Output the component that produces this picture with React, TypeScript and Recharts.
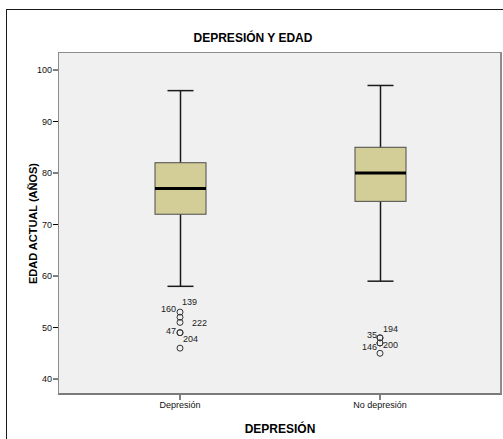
import React from 'react';
import {
  ComposedChart,
  Bar,
  Scatter,
  XAxis,
  YAxis,
  CartesianGrid,
  LabelList,
  Label,
} from 'recharts';

// Box plot summary per group
const categories = ['Depresión', 'No depresión'];
const whiskerLow = [58, 59];
const quartile1 = [72, 74.5];
const medians = [77, 80];
const quartile3 = [82, 85];
const whiskerHigh = [96, 97];

// Outliers and their case numbers ('' = no label shown)
const outlierValues = [
  [53, 52, 51, 49, 49, 46],
  [48, 48, 47, 47, 45],
];
const outlierIds = [
  ['139', '160', '222', '47', '204', ''],
  ['194', '35', '146', '200', ''],
];

const yTicks = [40, 50, 60, 70, 80, 90, 100];

const FONT = '"Liberation Sans", Arial, sans-serif';

const boxData = categories.map((cat, i) => ({
  cat,
  low: whiskerLow[i],
  q1: quartile1[i],
  med: medians[i],
  q3: quartile3[i],
  high: whiskerHigh[i],
}));

const outlierData = categories.flatMap((cat, i) =>
  outlierValues[i].map((value, j) => ({ cat, value, id: outlierIds[i][j] }))
);

// where each case number sits relative to its circle
const labelPlacement: Record<string, { dx: number; dy: number; anchor: 'start' | 'end' }> = {
  '139': { dx: 2, dy: -10, anchor: 'start' },
  '160': { dx: -4, dy: -8, anchor: 'end' },
  '222': { dx: 12, dy: 1, anchor: 'start' },
  '47': { dx: -4, dy: -2, anchor: 'end' },
  '204': { dx: 3, dy: 6, anchor: 'start' },
  '194': { dx: 3, dy: -9, anchor: 'start' },
  '35': { dx: -3, dy: -3, anchor: 'end' },
  '146': { dx: -3, dy: 4, anchor: 'end' },
  '200': { dx: 3, dy: 2, anchor: 'start' },
};

const BoxShape = (props: any) => {
  const { x, y, width, height, payload } = props;
  const top = height >= 0 ? y : y + height;
  const h = Math.abs(height);
  const span = payload.high - payload.low;
  const toY = (v: number) => top + ((payload.high - v) / span) * h;
  const cx = x + width / 2;
  const cap = 13;
  return (
    <g>
      <line x1={cx} x2={cx} y1={toY(payload.high)} y2={toY(payload.q3)} stroke="#1a1a1a" strokeWidth={1.5} />
      <line x1={cx} x2={cx} y1={toY(payload.q1)} y2={toY(payload.low)} stroke="#1a1a1a" strokeWidth={1.5} />
      <line x1={cx - cap} x2={cx + cap} y1={toY(payload.high)} y2={toY(payload.high)} stroke="#1a1a1a" strokeWidth={1.5} />
      <line x1={cx - cap} x2={cx + cap} y1={toY(payload.low)} y2={toY(payload.low)} stroke="#1a1a1a" strokeWidth={1.5} />
      <rect
        x={x}
        y={toY(payload.q3)}
        width={width}
        height={toY(payload.q1) - toY(payload.q3)}
        fill="#D3CE98"
        stroke="#4a4a4a"
        strokeWidth={1}
      />
      <line x1={x} x2={x + width} y1={toY(payload.med)} y2={toY(payload.med)} stroke="#000" strokeWidth={3} />
    </g>
  );
};

const OutlierShape = (props: any) => (
  <circle cx={props.cx} cy={props.cy} r={3} fill="none" stroke="#333" strokeWidth={1} />
);

const OutlierLabel = (props: any) => {
  const { x, y, width, height, value } = props;
  const place = labelPlacement[value];
  if (!value || !place) return null;
  return (
    <text
      x={x + width / 2 + place.dx}
      y={y + height / 2 + place.dy}
      textAnchor={place.anchor}
      dominantBaseline="central"
      fontSize={9}
      fontFamily={FONT}
      fill="#222"
    >
      {value}
    </text>
  );
};

export default function App() {
  return (
    <div
      style={{
        position: 'absolute',
        left: 0,
        top: 0,
        width: 503,
        height: 439,
        background: '#fff',
        overflow: 'hidden',
        fontFamily: FONT,
      }}
    >
      <div
        style={{
          position: 'absolute',
          left: 6,
          top: 9,
          width: 530,
          height: 470,
          border: '1.5px solid #1a1a1a',
        }}
      />
      <div
        style={{
          position: 'absolute',
          left: 0,
          top: 31,
          width: 506,
          textAlign: 'center',
          fontSize: 12,
          fontWeight: 'bold',
          lineHeight: '14px',
          color: '#000',
        }}
      >
        DEPRESIÓN Y EDAD
      </div>
      <ComposedChart
        width={503}
        height={439}
        data={boxData}
        margin={{ top: 52, right: 1, left: 8, bottom: 6 }}
        style={{ position: 'absolute', left: 0, top: 0 }}
      >
        <CartesianGrid horizontal={false} vertical={false} fill="#F0F0F0" />
        <XAxis
          dataKey="cat"
          type="category"
          allowDuplicatedCategory={false}
          padding={{ left: 22, right: 22 }}
          axisLine={false}
          tickSize={5}
          tickMargin={2}
          tickLine={{ stroke: '#000' }}
          tick={{ fontSize: 9, fill: '#111', fontFamily: FONT }}
          height={38}
        >
          <Label
            value="DEPRESIÓN"
            position="insideBottom"
            offset={0}
            style={{ fontSize: 12, fontWeight: 'bold', fill: '#000', fontFamily: FONT }}
          />
        </XAxis>
        <YAxis
          type="number"
          domain={[36.9, 103.5]}
          ticks={yTicks}
          allowDataOverflow
          axisLine={false}
          tickSize={5}
          tickMargin={1}
          tickLine={{ stroke: '#000' }}
          tick={{ fontSize: 9, fill: '#111', fontFamily: FONT }}
          width={50}
        >
          <Label
            content={({ viewBox }: any) => {
              const cx = viewBox.x + 25;
              const cy = viewBox.y + viewBox.height / 2;
              return (
                <text
                  x={cx}
                  y={cy}
                  transform={`rotate(-90, ${cx}, ${cy})`}
                  textAnchor="middle"
                  dominantBaseline="central"
                  fontSize={11}
                  fontWeight="bold"
                  fontFamily={FONT}
                  fill="#000"
                >
                  EDAD ACTUAL (AÑOS)
                </text>
              );
            }}
          />
        </YAxis>
        <Bar
          dataKey={(d: any) => [d.low, d.high]}
          barSize={51}
          shape={BoxShape}
          isAnimationActive={false}
        />
        <Scatter
          data={outlierData}
          dataKey="value"
          shape={OutlierShape}
          isAnimationActive={false}
        >
          <LabelList dataKey="id" content={OutlierLabel} />
        </Scatter>
      </ComposedChart>
      <div
        style={{
          position: 'absolute',
          left: 58,
          top: 52,
          width: 444,
          height: 343,
          boxSizing: 'border-box',
          borderTop: '1px solid #8c8c8c',
          borderLeft: '1px solid #8c8c8c',
          borderRight: '2px solid #8c8c8c',
          borderBottom: '2px solid #7a7a7a',
          pointerEvents: 'none',
        }}
      />
    </div>
  );
}
